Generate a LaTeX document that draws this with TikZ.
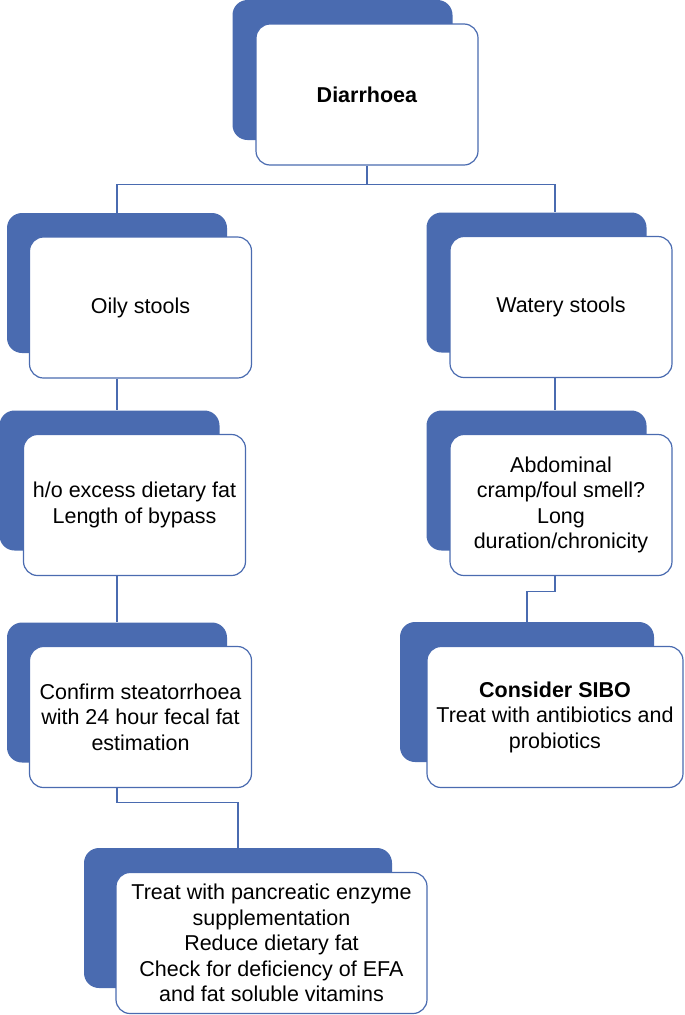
\documentclass[tikz,border=0pt]{standalone}
\usepackage{fontspec}
\setmainfont{Liberation Sans}
\usetikzlibrary{calc,positioning}
\definecolor{color_box_back}{HTML}{4A6BB0}
\definecolor{color_box_line}{HTML}{4A6BB0}

\tikzset{
	backbox/.style={fill=color_box_back,rounded corners=15pt,minimum width=220pt,minimum height=140pt,inner sep=0},
	frontbox/.style={draw=color_box_line,fill=white,line width=1.2pt,rounded corners=14pt,minimum width=222pt,minimum height=141pt,inner sep=0,align=center,font=\fontsize{21.5}{25.5}\selectfont},
	link/.style={draw=color_box_line,line width=1.2pt}
}

\begin{document}
\begin{tikzpicture}[x=1pt,y=-1pt]
				\useasboundingbox (0, 0) rectangle (685, 1015);
				% Back boxes
				\node[backbox] (diaback) at (342.5, 70) {};
				\node[backbox] (oilyback) at (117, 283) {};
				\node[backbox] (wateryback) at (536.5, 282.5) {};
				\node[backbox] (hoback) at (109.5, 480.5) {};
				\node[backbox] (abdback) at (536.5, 480.5) {};
				\node[backbox] (confback) at (117, 692.5) {};
				\node[backbox,minimum width=254pt] (siboback) at (527, 692) {};
				\node[backbox,minimum width=308pt] (treatback) at (238, 918) {};
				
				% Front boxes
				\node[frontbox] (dia) at (367, 94.5) {\textbf{Diarrhoea}};
				\node[frontbox] (oily) at (140.5, 307.5) {Oily stools};
				\node[frontbox] (watery) at (561, 307) {Watery stools};
				\node[frontbox] (ho) at (134.5, 505) {h/o excess dietary fat\\Length of bypass};
				\node[frontbox] (abd) at (561, 505) {Abdominal\\cramp/foul smell?\\Long\\duration/chronicity};
				\node[frontbox] (conf) at (140.5, 717) {Confirm steatorrhoea\\with 24 hour fecal fat\\estimation};
				\node[frontbox,minimum width=256pt] (sibo) at (555, 717) {\textbf{Consider SIBO}\\Treat with antibiotics and\\probiotics};
				\node[frontbox,minimum width=311pt] (treat) at (271.5, 943) {Treat with pancreatic enzyme\\supplementation\\Reduce dietary fat\\Check for deficiency of EFA\\and fat soluble vitamins};
				
				% Joints
				\coordinate (split) at ($(dia.south) + (0, 19)$);
				\coordinate (wdrop) at ($(wateryback.north) + (18.5, 0)$);
				\coordinate (abdjoint) at ($(abd.south) + (-6, 15)$);
				\coordinate (confjoint) at ($(conf.south) + (-23.5, 14)$);
				
				% Connectors
				\draw[link] (dia.south) -- (split);
				\draw[link] (oilyback.north) |- (split) -| (wdrop);
				\draw[link] (oilyback.north |- oily.south) -- (oilyback.north |- hoback.north);
				\draw[link] (confback.north |- ho.south) -- (confback.north);
				\draw[link] (confback.north |- conf.south) -- (confjoint) -| (treatback.north);
				\draw[link] (wdrop |- watery.south) -- (wdrop |- abdback.north);
				\draw[link] (wdrop |- abd.south) -- (abdjoint) -| (siboback.north);
			\end{tikzpicture}
\end{document}
